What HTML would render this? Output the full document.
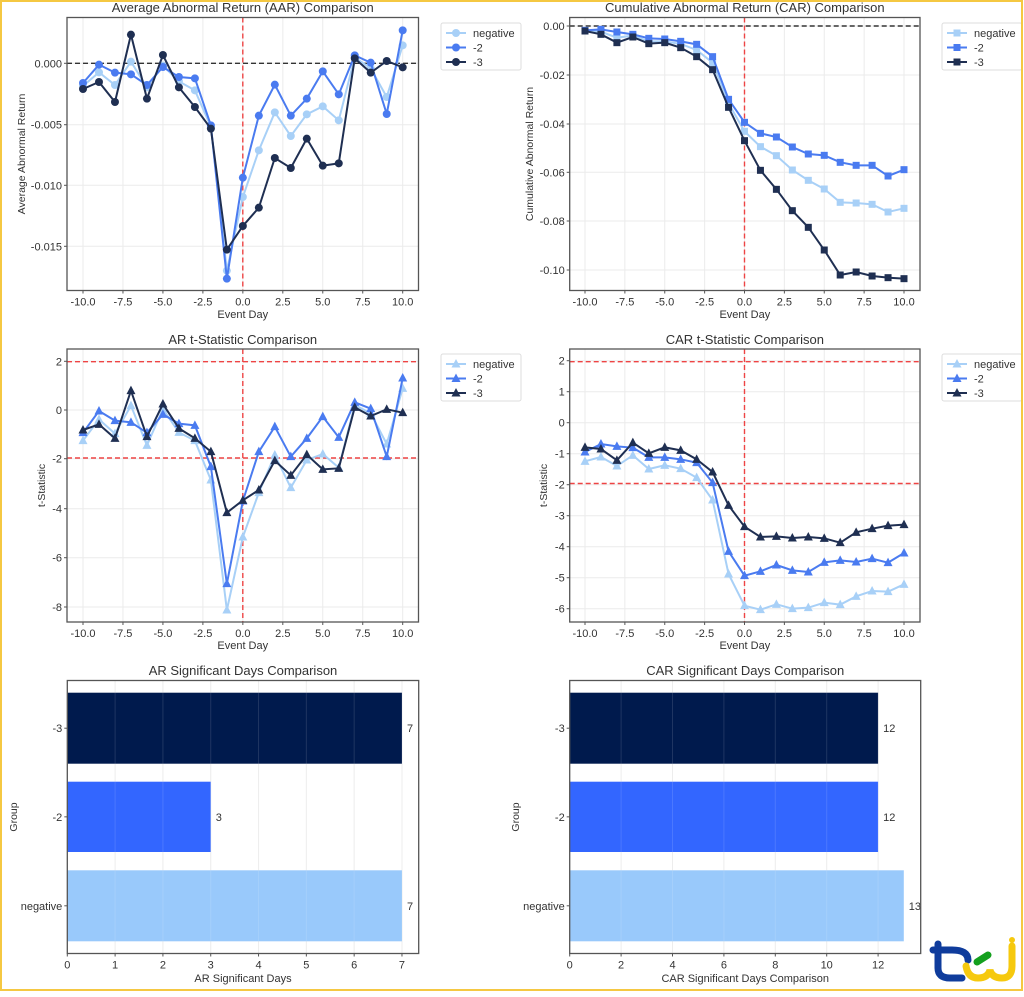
<!DOCTYPE html>
<html><head><meta charset="utf-8">
<style>
html,body{margin:0;padding:0;background:#fff;}
svg text{font-family:"Liberation Sans","Noto Sans CJK TC",sans-serif;fill:#333;}
</style></head>
<body>
<svg id="s" width="1024" height="992" xmlns="http://www.w3.org/2000/svg"></svg>
<script>
const S=document.getElementById('s');let h='';
const LC='#a8d0f7',MC='#4a7bf0',DC='#1f2f52';
function T(x,y,t,o){o=o||{};h+=`<text x="${x}" y="${y}" font-size="${o.fs||11}" text-anchor="${o.a||'middle'}" ${o.r?`transform="rotate(-90 ${x} ${y})"`:''}>${t}</text>`;}
function panel(P){
 const {bx0,bx1,by0,by1,ox,oy,xt,yt,ytl,series,mk,hl,vcol,title,ylab,ylx,legY,legX,xl,xlY,tY}=P;
 // grid
 xt.forEach(v=>{h+=`<line x1="${v}" y1="${by0}" x2="${v}" y2="${by1}" stroke="#ebebeb" stroke-width="1"/>`;});
 yt.forEach(v=>{h+=`<line x1="${bx0}" y1="${v}" x2="${bx1}" y2="${v}" stroke="#ebebeb" stroke-width="1"/>`;});
 hl.forEach(([y,c])=>{h+=`<line x1="${bx0}" y1="${y}" x2="${bx1}" y2="${y}" stroke="${c}" stroke-width="1.4" stroke-dasharray="5,3"/>`;});
 const x0=xt[2]; // not used
 h+=`<line x1="${P.vx}" y1="${by0}" x2="${P.vx}" y2="${by1}" stroke="#ee4444" stroke-width="1.4" stroke-dasharray="5,3"/>`;
 const cols=[LC,MC,DC];
 series.forEach((sr,i)=>{
  const pts=sr.map((zy,k)=>[P.dx0+k*(P.dx1-P.dx0)/20, oy+zy/3]);
  h+=`<polyline fill="none" stroke="${cols[i]}" stroke-width="2" points="${pts.map(p=>p.join(',')).join(' ')}"/>`;
  pts.forEach(p=>marker(p[0],p[1],mk,cols[i]));
 });
 h+=`<rect x="${bx0}" y="${by0}" width="${bx1-bx0}" height="${by1-by0}" fill="none" stroke="#555" stroke-width="1.3"/>`;
 xl.forEach((l,i)=>{h+=`<line x1="${xt[i]}" y1="${by1}" x2="${xt[i]}" y2="${by1+3}" stroke="#555"/>`;T(xt[i],by1+15,l);});
 ytl.forEach((l,i)=>{h+=`<line x1="${bx0-3}" y1="${yt[i]}" x2="${bx0}" y2="${yt[i]}" stroke="#555"/>`;T(bx0-5,yt[i]+4,l,{a:'end'});});
 T((bx0+bx1)/2,xlY,'Event Day');
 T(ylx,(by0+by1)/2,ylab,{r:1,fs:10.5});
 T((bx0+bx1)/2,tY,title,{fs:13});
 // legend
 h+=`<rect x="${legX}" y="${legY}" width="80" height="47" rx="2" fill="#fff" stroke="#ddd"/>`;
 ['negative','-2','-3'].forEach((n,i)=>{const y=legY+10+i*14.5;h+=`<line x1="${legX+5}" y1="${y}" x2="${legX+25}" y2="${y}" stroke="${cols[i]}" stroke-width="2"/>`;marker(legX+15,y,mk,cols[i]);T(legX+32,y+4,n,{a:'start'});});
}
function marker(x,y,m,c){
 if(m=='o')h+=`<circle cx="${x}" cy="${y}" r="4" fill="${c}"/>`;
 else if(m=='s')h+=`<rect x="${x-3.5}" y="${y-3.5}" width="7" height="7" fill="${c}"/>`;
 else h+=`<polygon points="${x},${y-5} ${x-4.5},${y+3.5} ${x+4.5},${y+3.5}" fill="${c}"/>`;
}
const xlab=['-10.0','-7.5','-5.0','-2.5','0.0','2.5','5.0','7.5','10.0'];
function xts(a,b){return xlab.map((_,i)=>a+i*(b-a)/8);}
// Panel 1
panel({bx0:67,bx1:418.5,by0:17.5,by1:290.5,oy:0,dx0:83,dx1:402.7,vx:242.8,xt:xts(83,402.7),xl:xlab,
 yt:[63.3,124.7,185.3,246.3],ytl:['0.000','-0.005','-0.010','-0.015'],hl:[[63.3,'#333']],mk:'o',
 series:[[258,217,255,185,262,197,244,271,380,812,591,451,337,408,343,319,361,172,205,291,136],
 [249,194,218,223,255,201,231,235,376,836,533,347,254,347,296,214,283,166,188,342,91],
 [267,246,306,104,296,165,262,321,386,749,678,623,474,504,416,497,490,175,218,183,202]],
 title:'Average Abnormal Return (AAR) Comparison',tY:12,ylab:'Average Abnormal Return',ylx:25,xlY:318,legX:441,legY:23});
// Panel 2
panel({bx0:569.7,bx1:920,by0:17.5,by1:290.5,oy:0,dx0:585,dx1:904,vx:744.5,xt:xts(585,904),xl:xlab,
 yt:[26,75,124,172.3,221,270],ytl:['0.00','-0.02','-0.04','-0.06','-0.08','-0.10'],hl:[[26,'#333']],mk:'s',
 series:[[93,95,113,107,124,124,132,150,188,310,394,440,467,510,541,567,607,609,613,636,625],
 [91,88,96,103,115,117,124,133,170,298,367,400,411,441,462,466,487,496,496,528,509],
 [93,103,128,111,131,128,143,170,209,322,422,511,568,632,682,750,825,816,828,833,836]].map(a=>a),
 title:'Cumulative Abnormal Return (CAR) Comparison',tY:12,ylab:'Cumulative Abnormal Return',ylx:533,xlY:318,legX:942,legY:23});
// Panel 3
panel({bx0:67,bx1:418.5,by0:349,by1:622,oy:320,dx0:83,dx1:402.7,vx:242.8,xt:xts(83,402.7),xl:xlab,
 yt:[361.3,410,458.7,508.7,557.7,607],ytl:['2','0','-2','-4','-6','-8'],hl:[[361.7,'#ee4444'],[458,'#ee4444']],mk:'^',
 series:[[362,298,341,257,376,267,337,362,480,870,651,518,405,503,420,402,443,255,280,372,205],
 [338,273,302,307,338,283,311,316,440,791,543,395,320,410,355,290,352,247,266,410,174],
 [330,313,355,212,350,252,325,355,395,578,541,510,422,466,404,448,445,262,288,268,278]],
 title:'AR t-Statistic Comparison',tY:344,ylab:'t-Statistic',ylx:45,xlY:649,legX:441,legY:354});
// Panel 4
panel({bx0:569.7,bx1:920,by0:349,by1:622,oy:320,dx0:585,dx1:904,vx:744.5,xt:xts(585,904),xl:xlab,
 yt:[360.7,391.7,422.7,453.7,484.7,515.7,546.7,577.7,608.7],ytl:['2','1','0','-1','-2','-3','-4','-5','-6'],hl:[[361.7,'#ee4444'],[483.5,'#ee4444']],mk:'^',
 series:[[424,411,438,406,447,436,446,473,540,762,857,869,853,866,863,848,854,829,813,815,793],
 [396,372,379,383,412,412,418,428,488,694,767,754,735,751,756,727,721,726,716,728,699],
 [382,387,421,368,400,382,391,418,456,556,620,651,649,654,651,655,668,637,626,617,614]],
 title:'CAR t-Statistic Comparison',tY:344,ylab:'t-Statistic',ylx:547,xlY:649,legX:942,legY:354});
// bars
function bars(bx0,bx1,unit,ticks,vals,xlabel,title,glx){
 const by0=680.5,by1=953.5;
 ticks.forEach(t=>{const x=bx0+t*unit;h+=`<line x1="${x}" y1="${by0}" x2="${x}" y2="${by1}" stroke="#ebebeb"/>`;});
 const ys=[[692.7,763.7,'#001a4d','-3'],[781.7,852,'#3366ff','-2'],[870.3,941.3,'#99c9fb','negative']];
 ys.forEach((b,i)=>{const w=vals[i]*unit;h+=`<rect x="${bx0}" y="${b[0]}" width="${w}" height="${b[1]-b[0]}" fill="${b[2]}"/>`;
  T(bx0+w+5,(b[0]+b[1])/2+4,vals[i],{a:'start'});
  h+=`<line x1="${bx0-3}" y1="${(b[0]+b[1])/2}" x2="${bx0}" y2="${(b[0]+b[1])/2}" stroke="#555"/>`;
  T(bx0-5,(b[0]+b[1])/2+4,b[3],{a:'end'});});
 ticks.forEach(t=>{const x=bx0+t*unit;h+=`<line x1="${x}" y1="${by0}" x2="${x}" y2="${by1}" stroke="rgba(255,255,255,0.12)"/>`;});
 h+=`<rect x="${bx0}" y="${by0}" width="${bx1-bx0}" height="${by1-by0}" fill="none" stroke="#555" stroke-width="1.3"/>`;
 ticks.forEach(t=>{const x=bx0+t*unit;h+=`<line x1="${x}" y1="${by1}" x2="${x}" y2="${by1+3}" stroke="#555"/>`;T(x,by1+15,t);});
 T((bx0+bx1)/2,982,xlabel);T((bx0+bx1)/2,675,title,{fs:13});T(glx,817,'Group',{r:1,fs:10.5});
}
bars(67.3,418.7,47.81,[0,1,2,3,4,5,6,7],[7,3,7],'AR Significant Days','AR Significant Days Comparison',17);
bars(569.7,920.7,25.7,[0,2,4,6,8,10,12],[12,12,13],'CAR Significant Days Comparison','CAR Significant Days Comparison',519);
// logo
h+=`<g fill="none" stroke-linecap="round">
<path d="M938 944 L938 968 Q938 978 950 978 L962 978" stroke="#0f3c9c" stroke-width="7"/>
<path d="M933 950 L952 950 Q968 950 968 960" stroke="#0f3c9c" stroke-width="7"/>
<path d="M966 966 Q968 978 978 978 Q988 978 990 970 Q992 978 1002 978 Q1012 978 1012 966 L1012 946" stroke="#f6c90e" stroke-width="7"/>
<circle cx="1012" cy="940" r="3" fill="#f6c90e" stroke="none"/>
<path d="M977 962 L988 955" stroke="#14a01e" stroke-width="7"/></g>`;
h+=`<rect x="1" y="1" width="1021" height="989" fill="none" stroke="#f5c842" stroke-width="2"/>`;
S.innerHTML=h;
</script>
</body></html>
